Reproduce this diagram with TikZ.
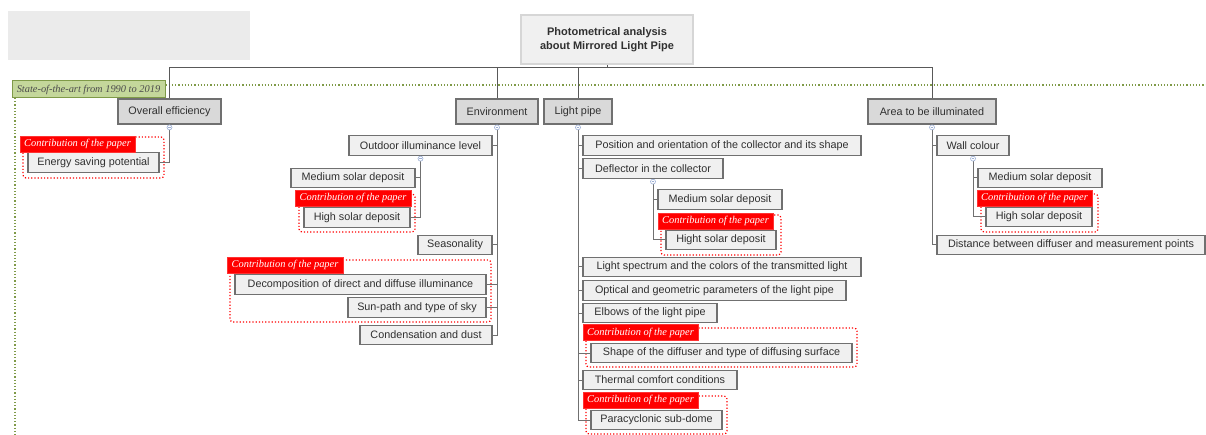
\documentclass[tikz,border=0pt]{standalone}
\usepackage{fontspec}
\setmainfont{Liberation Sans}
\newfontfamily\notefont{Liberation Serif}
\usepackage{tikz}
\usetikzlibrary{calc,positioning}
\definecolor{boxline}{HTML}{707070}
\definecolor{leaffill}{HTML}{F0F0F0}
\definecolor{branchfill}{HTML}{D9D9D9}
\definecolor{rootline}{HTML}{D6D6D6}
\definecolor{togglec}{HTML}{9DB0D6}
\definecolor{stategreen}{HTML}{C4D79B}
\definecolor{stateline}{HTML}{7F9A48}
\definecolor{txt}{HTML}{303030}

\begin{document}
\begin{tikzpicture}[x=1pt,y=-1pt,
    every node/.style={text=txt, font=\fontsize{10.8}{12}\selectfont, inner sep=0},
    root/.style={draw=rootline, line width=2.5pt, fill=leaffill, align=center, font=\bfseries\fontsize{11}{14}\selectfont},
    branch/.style={draw=boxline, line width=1.2pt, fill=branchfill, minimum height=25},
    leaf/.style={draw=boxline, line width=1.2pt, fill=leaffill, minimum height=19.5},
    contrib/.style={fill=red, draw=red!80!white, text=white, minimum height=16, font=\notefont\itshape\fontsize{10.4}{11}\selectfont},
    contribframe/.style={draw=red, dotted, line width=1.2pt, rounded corners=3pt},
    link/.style={draw=boxline, line width=1pt},
    toggle/.style={circle, draw=togglec, fill=white, line width=0.6pt, minimum size=5, anchor=north,
      path picture={\draw[togglec, line width=0.5pt] ([xshift=-1.4]path picture bounding box.center) -- ([xshift=1.4]path picture bounding box.center);}}]
\useasboundingbox (0,0) rectangle (1206,435);

\fill[black!8] (8,11) rectangle (250,60);

% period band
\node[fill=stategreen, draw=stateline, line width=1pt, minimum width=153, minimum height=17, text=black!70, font=\notefont\itshape\fontsize{10.4}{11}\selectfont] (period) at (88.5,89.5) {State-of-the-art from 1990 to 2019};
\draw[stateline, dotted, line width=1.2pt] (period.east |- 0,85) -- (1206,85);
\draw[stateline, dotted, line width=1.2pt] (15,98) -- (15,435);

% root and first level
\node[root, minimum width=172, minimum height=49] (root) at (607,39.5) {Photometrical analysis\\about Mirrored Light Pipe};
\coordinate (hub) at (607,68);
\node[branch, minimum width=103] (oe) at (169.5,111.5) {Overall efficiency};
\node[branch, minimum width=82] (env) at (497,111.5) {Environment};
\node[branch, minimum width=68] (lp) at (578,111.5) {Light pipe};
\node[branch, minimum width=128] (area) at (932,111.5) {Area to be illuminated};

% frames of the contributions
\draw[contribframe] (23,137) rectangle (164,178);
\draw[contribframe] (299,194) rectangle (415,232);
\draw[contribframe] (230,260) rectangle (491,322);
\draw[contribframe] (661,215) rectangle (781,255);
\draw[contribframe] (586,328) rectangle (857,367);
\draw[contribframe] (586,396) rectangle (727,434);
\draw[contribframe] (981,194) rectangle (1098,232);

% overall efficiency
\node[leaf, minimum width=131] (esp) at (93.5,162.5) {Energy saving potential};

% environment
\node[leaf, minimum width=143] (outdoor) at (420.5,145.5) {Outdoor illuminance level};
\node[leaf, minimum width=124] (envmed) at (353,178) {Medium solar deposit};
\node[leaf, minimum width=106] (envhigh) at (357,217.5) {High solar deposit};
\node[leaf, minimum width=74] (season) at (455,245) {Seasonality};
\node[leaf, minimum width=251] (decomp) at (360.5,284.5) {Decomposition of direct and diffuse illuminance};
\node[leaf, minimum width=138] (sunpath) at (417,307.5) {Sun-path and type of sky};
\node[leaf, minimum width=132] (cond) at (426,335) {Condensation and dust};

% light pipe
\node[leaf, minimum width=278] (pos) at (722,145.5) {Position and orientation of the collector and its shape};
\node[leaf, minimum width=140] (defl) at (653,168.5) {Deflector in the collector};
\node[leaf, minimum width=124] (lpmed) at (720,199.5) {Medium solar deposit};
\node[leaf, minimum width=110] (lphigh) at (721,240) {Hight solar deposit};
\node[leaf, minimum width=278] (spectrum) at (722,267) {Light spectrum and the colors of the transmitted light};
\node[leaf, minimum width=263] (optical) at (714.5,290.5) {Optical and geometric parameters of the light pipe};
\node[leaf, minimum width=134] (elbows) at (650,313) {Elbows of the light pipe};
\node[leaf, minimum width=261] (diffuser) at (721.5,353) {Shape of the diffuser and type of diffusing surface};
\node[leaf, minimum width=154] (thermal) at (660,380) {Thermal comfort conditions};
\node[leaf, minimum width=131] (paracyc) at (656.5,420) {Paracyclonic sub-dome};

% area to be illuminated
\node[leaf, minimum width=72] (wall) at (973,145.5) {Wall colour};
\node[leaf, minimum width=124] (wallmed) at (1040,178) {Medium solar deposit};
\node[leaf, minimum width=106] (wallhigh) at (1039,217) {High solar deposit};
\node[leaf, minimum width=268] (distance) at (1071,245) {Distance between diffuser and measurement points};

% contribution tags
\node[contrib, minimum width=115] (tag1) at (77.5,144) {Contribution of the paper};
\node[contrib, minimum width=116] (tag2) at (353,198) {Contribution of the paper};
\node[contrib, minimum width=116] (tag3) at (285,265) {Contribution of the paper};
\node[contrib, minimum width=115] (tag4) at (715.5,221) {Contribution of the paper};
\node[contrib, minimum width=115] (tag5) at (640.5,332.5) {Contribution of the paper};
\node[contrib, minimum width=115] (tag6) at (640.5,400) {Contribution of the paper};
\node[contrib, minimum width=115] (tag7) at (1034.5,198) {Contribution of the paper};

% connectors
\draw[link, black!65] (root.south) -- (hub);
\foreach \b in {oe,env,lp,area}
  \draw[link, black!65] (\b.north) |- (hub);
\draw[link] (oe.south) |- (esp.east);
\foreach \c in {outdoor,season,decomp,sunpath,cond}
  \draw[link] (env.south) |- (\c.east);
\foreach \c in {envmed,envhigh}
  \draw[link] (outdoor.south) |- (\c.east);
\foreach \c in {pos,defl,spectrum,optical,elbows,diffuser,thermal,paracyc}
  \draw[link] (lp.south) |- (\c.west);
\foreach \c in {lpmed,lphigh}
  \draw[link] (defl.south) |- (\c.west);
\foreach \c in {wall,distance}
  \draw[link] (area.south) |- (\c.west);
\foreach \c in {wallmed,wallhigh}
  \draw[link] (wall.south) |- (\c.west);

\foreach \p in {oe,env,lp,area,outdoor,defl,wall}
  \node[toggle] (t-\p) at (\p.south) {};
\end{tikzpicture}
\end{document}
